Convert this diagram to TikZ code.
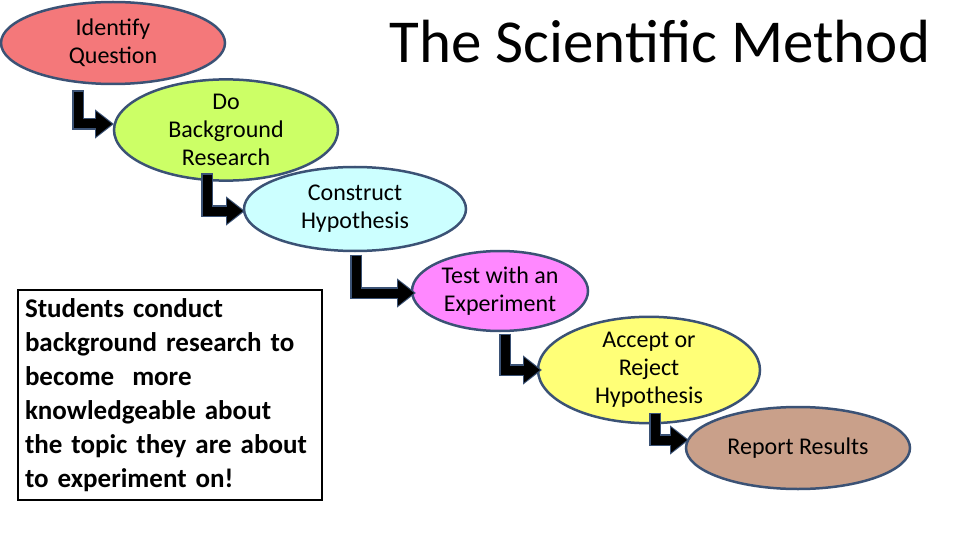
\documentclass[tikz,border=0pt]{standalone}
\usepackage{fontspec}
\setmainfont{Carlito}
\usetikzlibrary{arrows.meta,shapes.geometric}
\definecolor{bord}{HTML}{3B5275}
\tikzset{
 el/.style={ellipse, draw=bord, line width=2.5pt, inner sep=0pt, align=center, font=\fontsize{24}{28}\selectfont},
 larrow/.style={line width=9pt, -{Triangle[length=16pt,width=24pt]}},
}
\begin{document}
\begin{tikzpicture}[x=1pt,y=-1pt]
\useasboundingbox (0,0) rectangle (960,540);
\node[el, fill={rgb,255:red,244;green,120;blue,122}, minimum width=224pt, minimum height=82pt] (a) at (113,43) {Identify\\Question};
\node[el, fill={rgb,255:red,204;green,255;blue,102}, minimum width=224pt, minimum height=80pt] (b) at (226,130) {Do\\Background\\Research};
\node[el, fill={rgb,255:red,204;green,255;blue,255}, minimum width=222pt, minimum height=84pt] (c) at (355,209) {Construct\\Hypothesis};
\node[el, fill={rgb,255:red,255;green,136;blue,255}, minimum width=176pt, minimum height=80pt] (d) at (500,291) {Test with an\\Experiment};
\node[el, fill={rgb,255:red,255;green,255;blue,119}, minimum width=222pt, minimum height=82pt] (e) at (649,370) {Accept or\\Reject\\Hypothesis};
\node[el, fill={rgb,255:red,201;green,160;blue,138}, minimum width=224pt, minimum height=82pt] (f) at (798,448) {Report Results};
\node[font=\fontsize{61}{70}\selectfont] (t) at (660,42) {The Scientific Method};
\node[draw=black, line width=1.5pt, text width=290pt, minimum height=210pt, align=left, inner xsep=7pt, inner ysep=4pt, font=\bfseries\fontsize{27}{34}\selectfont] (box) at (170,395) {Students conduct\\background research to\\become \ more\\knowledgeable about\\the topic they are about\\to experiment on!};
\foreach \s/\t/\x/\ya/\yb/\xe in {a/b/78/92/124/113, b/c/207/175/211/244, c/d/356/256/293/415, d/e/505/335/370/541, e/f/655/414/440/688}{
 \coordinate (s\s) at (\x,\ya);
 \coordinate (k\s) at (\x,\yb);
 \coordinate (e\s) at (\xe,\yb);
 \draw[larrow, line width=12pt, bord, line join=miter, -{Triangle[length=19pt,width=28pt]}] ([yshift=1.5pt]s\s) -- (k\s) -- ([xshift=1pt]e\s);
 \draw[larrow, black, line join=miter] (s\s) -- (k\s) -- ([xshift=-1pt]e\s);
}
\end{tikzpicture}
\end{document}
